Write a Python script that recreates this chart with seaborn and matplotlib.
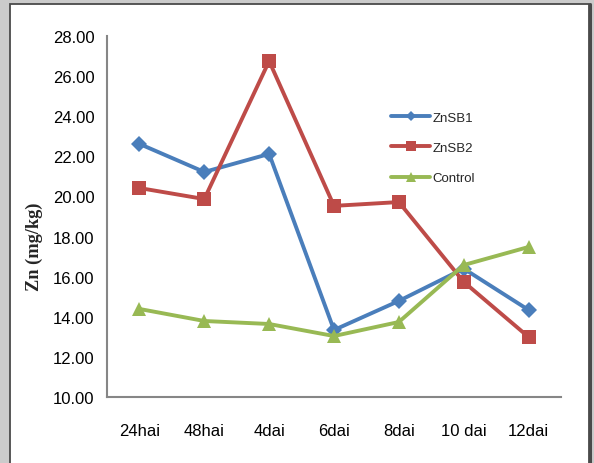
import matplotlib
matplotlib.use("Agg")
import matplotlib.pyplot as plt
from matplotlib.patches import Rectangle
import pandas as pd
import seaborn as sns

# Sampling times and Zn concentrations (mg/kg) for each treatment
times = ["24hai", "48hai", "4dai", "6dai", "8dai", "10 dai", "12dai"]
znsb1 = [22.62, 21.22, 22.12, 13.34, 14.79, 16.40, 14.34]
znsb2 = [20.42, 19.87, 26.75, 19.53, 19.72, 15.74, 12.99]
control = [14.39, 13.79, 13.64, 13.04, 13.74, 16.58, 17.48]
series_names = ["ZnSB1", "ZnSB2", "Control"]
y_ticks = [10, 12, 14, 16, 18, 20, 22, 24, 26, 28]

df = pd.DataFrame({
    "time": times * 3,
    "pos": list(range(len(times))) * 3,
    "zn": znsb1 + znsb2 + control,
    "series": [s for s in series_names for _ in times],
})

sns.set_style("white")
plt.rcParams["font.family"] = ["Liberation Sans", "DejaVu Sans"]

fig = plt.figure(figsize=(5.94, 4.64), dpi=100)
fig.patch.set_facecolor("#cbcbcb")

# white chart area with a dark frame, kept behind the axes
panel = Rectangle((9.5 / 594, -0.05), (589 - 9.5) / 594, 1.05 - 4.5 / 464,
                  transform=fig.transFigure, facecolor="white",
                  edgecolor="#4a4a4a", linewidth=1.3, zorder=-10)
fig.add_artist(panel)
fig.add_artist(plt.Line2D([589.5 / 594, 589.5 / 594], [0, 1 - 4.5 / 464],
                          transform=fig.transFigure, color="#4a4a4a", lw=2.2,
                          zorder=-9))

ax = fig.add_axes([107 / 594, (464 - 398) / 464, (561 - 107) / 594, (398 - 37) / 464])
ax.set_facecolor("none")
ax.set_zorder(1)

palette = {"ZnSB1": "#4A7EBB", "ZnSB2": "#BE4B48", "Control": "#98B954"}
markers = {"ZnSB1": "D", "ZnSB2": "s", "Control": "^"}
sizes_m = {"ZnSB1": 8, "ZnSB2": 9.5, "Control": 9.5}

for name in series_names:
    sub = df[df["series"] == name]
    sns.lineplot(data=sub, x="pos", y="zn", ax=ax, color=palette[name],
                 marker=markers[name], markersize=sizes_m[name],
                 markeredgewidth=0, linewidth=2.8, label=name, legend=False)

ax.set_xlim(-0.5, len(times) - 0.5)
ax.set_ylim(10, 28)
ax.set_xticks(range(len(times)))
ax.set_xticklabels(times)
ax.set_yticks(y_ticks)
ax.set_yticklabels([f"{v:.2f}" for v in y_ticks])
ax.tick_params(axis="both", length=0, labelsize=12, colors="black")
ax.tick_params(axis="y", pad=9)
ax.tick_params(axis="x", pad=19)
ax.set_xlabel("")
ax.set_ylabel("Zn (mg/kg)", fontsize=13.2, fontweight="bold",
              family=["Liberation Serif", "DejaVu Serif"])
ax.yaxis.set_label_coords(-0.14, 0.42)

for side in ["top", "right"]:
    ax.spines[side].set_visible(False)
for side in ["left", "bottom"]:
    ax.spines[side].set_color("#868686")
    ax.spines[side].set_linewidth(1.5)

handles, labels = ax.get_legend_handles_labels()
leg = ax.legend(handles, labels, loc="upper left", bbox_to_anchor=(0.625, 0.79),
                frameon=False, fontsize=9.5, handlelength=3.0, handletextpad=0.15,
                labelspacing=1.35, borderpad=0, borderaxespad=0, markerscale=0.7)

fig.savefig("out.png", dpi=100, facecolor=fig.get_facecolor())
